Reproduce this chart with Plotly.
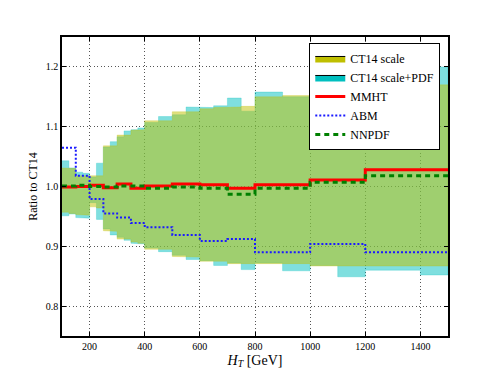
import plotly.graph_objects as go

# band bins (GeV) and CT14 uncertainty envelopes (ratio to CT14 central)
band_edges = [100, 125, 150, 175, 200, 225, 250, 275, 300, 325, 350, 375, 400,
              450, 500, 550, 600, 650, 700, 750, 800, 900, 1000, 1100, 1200,
              1300, 1400, 1500]
scale_up = [1.031, 1.030, 1.018, 1.018, 1.017, 1.018, 1.068, 1.068, 1.086, 1.086,
            1.094, 1.095, 1.110, 1.110, 1.125, 1.125, 1.130, 1.132, 1.133, 1.134,
            1.150, 1.152, 1.155, 1.158, 1.162, 1.165, 1.170]
scale_lo = [0.957, 0.955, 0.953, 0.952, 0.966, 0.964, 0.926, 0.925, 0.912, 0.912,
            0.907, 0.905, 0.895, 0.895, 0.883, 0.882, 0.875, 0.875, 0.871, 0.871,
            0.870, 0.871, 0.867, 0.867, 0.867, 0.867, 0.867]
pdf_up = [1.043, 1.031, 1.024, 1.022, 1.016, 1.039, 1.066, 1.075, 1.083, 1.093,
          1.095, 1.098, 1.107, 1.117, 1.120, 1.133, 1.132, 1.135, 1.148, 1.126,
          1.158, 1.150, 1.160, 1.170, 1.180, 1.190, 1.200]
pdf_lo = [0.951, 0.954, 0.948, 0.947, 0.973, 0.945, 0.929, 0.919, 0.915, 0.910,
          0.905, 0.904, 0.897, 0.891, 0.885, 0.878, 0.876, 0.868, 0.872, 0.861,
          0.872, 0.859, 0.868, 0.849, 0.860, 0.860, 0.852]

# other PDF sets, coarser bins
line_edges = [100, 150, 200, 250, 300, 350, 400, 500, 600, 700, 800, 1000, 1200, 1500]
mmht = [0.999, 1.000, 1.002, 0.998, 1.004, 0.997, 1.001, 1.004, 1.003, 0.997, 1.003, 1.011, 1.028]
abm = [1.065, 1.018, 0.979, 0.955, 0.948, 0.939, 0.932, 0.919, 0.909, 0.912, 0.890, 0.904, 0.890]
nnpdf = [1.001, 1.002, 1.000, 0.999, 1.001, 1.001, 0.997, 0.999, 0.997, 0.987, 0.997, 1.007, 1.018]

SERIF = "Liberation Serif, Times New Roman, serif"


def steps(edges, vals):
    xs, ys = [], []
    for i, v in enumerate(vals):
        xs += [edges[i], edges[i + 1]]
        ys += [v, v]
    return xs, ys


def band(edges, up, lo, color, name):
    xu, yu = steps(edges, up)
    xl, yl = steps(edges, lo)
    return go.Scatter(x=xu + xl[::-1], y=yu + yl[::-1], fill="toself", mode="lines",
                      fillcolor=color, line=dict(color=color, width=0.5),
                      showlegend=False, hoverinfo="skip", name=name)


fig = go.Figure()
fig.add_trace(band(band_edges, pdf_up, pdf_lo, "rgba(0,191,191,0.5)", "CT14 scale+PDF"))
fig.add_trace(band(band_edges, scale_up, scale_lo, "rgba(191,191,0,0.5)", "CT14 scale"))

# legend patches
for name, col in [("CT14 scale", "rgb(191,191,0)"), ("CT14 scale+PDF", "rgb(0,191,191)")]:
    fig.add_trace(go.Scatter(x=[None], y=[None], fill="toself", mode="lines", name=name,
                             fillcolor=col, line=dict(color="black", width=1)))

def step_line(vals):
    return line_edges, vals + [vals[-1]]

x, y = step_line(mmht)
fig.add_trace(go.Scatter(x=x, y=y, mode="lines", line_shape="hv", name="MMHT",
                         line=dict(color="#ff0000", width=3)))
x, y = step_line(abm)
fig.add_trace(go.Scatter(x=x, y=y, mode="lines", line_shape="hv", name="ABM",
                         line=dict(color="#1a1aff", width=2, dash="2px,2px")))
x, y = step_line(nnpdf)
fig.add_trace(go.Scatter(x=x, y=y, mode="lines", line_shape="hv", name="NNPDF",
                         line=dict(color="#008000", width=3, dash="5px,4px")))

axis = dict(showline=True, linecolor="black", linewidth=1.5, mirror="ticks",
            ticks="inside", ticklen=4, tickcolor="black",
            showgrid=True, gridcolor="#555", griddash="1px,2.5px", gridwidth=1,
            zeroline=False, tickfont=dict(family=SERIF, size=10, color="black"))

fig.update_xaxes(axis, range=[100, 1500], tickvals=[200, 400, 600, 800, 1000, 1200, 1400],
                 title=dict(text="<i>H</i><sub><i>T</i></sub> [GeV]", standoff=4,
                            font=dict(family=SERIF, size=14, color="black")))
fig.update_yaxes(axis, range=[0.75, 1.25], tickvals=[0.8, 0.9, 1.0, 1.1, 1.2], tickformat=".1f",
                 title=dict(text="Ratio to CT14", standoff=6,
                            font=dict(family=SERIF, size=12, color="black")))

# the page body adds an 8px offset, so margins are shifted to land the frame
fig.update_layout(
    width=498, height=374,
    margin=dict(l=54, r=58, t=29, b=46),
    plot_bgcolor="white", paper_bgcolor="white",
    legend=dict(x=0.98, y=0.98, xanchor="right", yanchor="top",
                bgcolor="white", bordercolor="black", borderwidth=1,
                font=dict(family=SERIF, size=12, color="black"),
                tracegroupgap=0, itemwidth=30),
)

fig.write_html("out.html")
